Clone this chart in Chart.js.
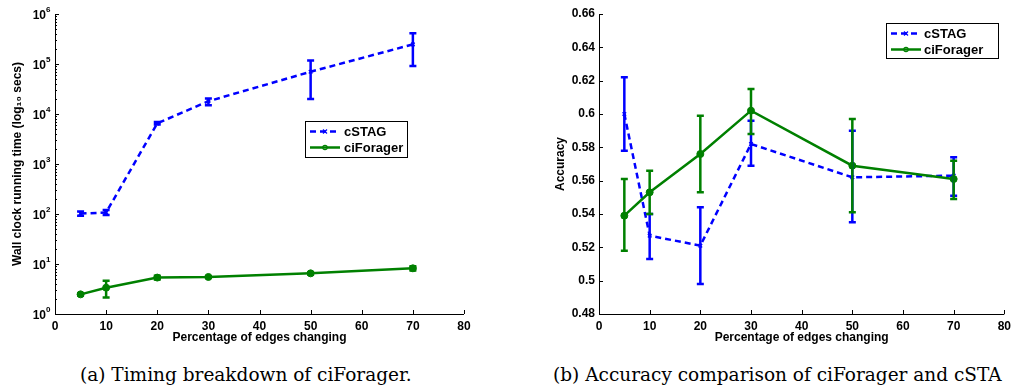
<!DOCTYPE html>
<html>
<head>
<meta charset="utf-8">
<script src="https://cdn.jsdelivr.net/npm/chart.js@4.4.1/dist/chart.umd.min.js"></script>
<style>
  body { margin: 0; background: #fff; width: 1016px; height: 390px; overflow: hidden; position: relative; }
  canvas { position: absolute; top: 0; }
  .cap { position: absolute; top: 364px; font-family: "DejaVu Serif", serif; font-size: 18.5px; line-height: 22px; white-space: nowrap; color: #000; }
</style>
</head>
<body>
<canvas id="time" width="500" height="350" style="left:0"></canvas>
<canvas id="acc" width="516" height="350" style="left:500px"></canvas>
<div class="cap" id="capA" style="left:80px">(a) Timing breakdown of ciForager.</div>
<div class="cap" id="capB" style="left:553px">(b) Accuracy comparison of ciForager and cSTA</div>
<script>
// x positions shared by both panels
const pctChanging = [5, 10, 20, 30, 50, 70];
const xTicks = [0, 10, 20, 30, 40, 50, 60, 70, 80];

// (a) running time, seconds
const timeCstag   = [102, 107, 6500, 18000, 70000, 247000];
const timeCstagLo = [92, 95, 6200, 15000, 20000, 91000];
const timeCstagHi = [112, 120, 6900, 20500, 118000, 410000];
const timeForager   = [2.47, 3.36, 5.35, 5.5, 6.5, 8.2];
const timeForagerLo = [2.35, 2.15, 4.9, 5.3, 6.2, 7.4];
const timeForagerHi = [2.6, 4.6, 5.8, 5.7, 6.8, 9.0];
const timeTickExps = [0, 1, 2, 3, 4, 5, 6];

// (b) accuracy
const accCstag   = [0.600, 0.527, 0.521, 0.582, 0.562, 0.563];
const accCstagLo = [0.578, 0.513, 0.498, 0.569, 0.535, 0.551];
const accCstagHi = [0.622, 0.540, 0.544, 0.596, 0.590, 0.574];
const accForager   = [0.539, 0.553, 0.576, 0.602, 0.569, 0.561];
const accForagerLo = [0.518, 0.540, 0.553, 0.588, 0.541, 0.549];
const accForagerHi = [0.561, 0.566, 0.599, 0.615, 0.597, 0.572];
const accTicks = [0.48, 0.5, 0.52, 0.54, 0.56, 0.58, 0.6, 0.62, 0.64, 0.66];

const BLUE = '#0000ff', GREEN = '#008000';
const FONT = '"Liberation Sans", Arial, sans-serif';
const pts = ys => pctChanging.map((x, i) => ({ x, y: ys[i] }));

const errorBars = {
  id: 'errorBars',
  afterDatasetsDraw(chart) {
    const { ctx, scales: { x, y } } = chart;
    chart.data.datasets.forEach(ds => {
      ctx.save();
      ctx.strokeStyle = ds.borderColor;
      ctx.lineWidth = 2.5;
      ctx.setLineDash([]);
      ds.data.forEach((p, j) => {
        const px = x.getPixelForValue(p.x);
        const y1 = y.getPixelForValue(ds.errLo[j]), y2 = y.getPixelForValue(ds.errHi[j]);
        ctx.beginPath();
        ctx.moveTo(px, y1); ctx.lineTo(px, y2);
        ctx.moveTo(px - 3.5, y1); ctx.lineTo(px + 3.5, y1);
        ctx.moveTo(px - 3.5, y2); ctx.lineTo(px + 3.5, y2);
        ctx.stroke();
      });
      ctx.restore();
    });
  }
};

// MATLAB-style axes: left + bottom line, ticks pointing inward
const axesBox = {
  id: 'axesBox',
  beforeDatasetsDraw(chart) {
    const { ctx, chartArea: a, scales: { x, y } } = chart;
    ctx.save();
    ctx.strokeStyle = '#000';
    ctx.lineWidth = 1;
    ctx.beginPath();
    ctx.moveTo(a.left + 0.5, a.top); ctx.lineTo(a.left + 0.5, a.bottom + 0.5); ctx.lineTo(a.right, a.bottom + 0.5);
    xTicks.forEach(v => {
      const px = Math.round(x.getPixelForValue(v)) + 0.5;
      ctx.moveTo(px, a.bottom); ctx.lineTo(px, a.bottom - 4);
    });
    if (y.type === 'logarithmic') {
      timeTickExps.forEach(e => {
        const py = Math.round(y.getPixelForValue(Math.pow(10, e))) + 0.5;
        ctx.moveTo(a.left, py); ctx.lineTo(a.left + 4, py);
        if (e < timeTickExps[timeTickExps.length - 1]) {
          for (let m = 2; m < 10; m++) {
            const my = Math.round(y.getPixelForValue(m * Math.pow(10, e))) + 0.5;
            ctx.moveTo(a.left, my); ctx.lineTo(a.left + 2, my);
          }
        }
      });
    } else {
      accTicks.forEach(v => {
        const py = Math.round(y.getPixelForValue(v)) + 0.5;
        ctx.moveTo(a.left, py); ctx.lineTo(a.left + 4, py);
      });
    }
    ctx.stroke();
    ctx.restore();
  }
};

// 10^n labels for the log axis
const powerLabels = {
  id: 'powerLabels',
  afterDraw(chart) {
    const { ctx, chartArea: a, scales: { y } } = chart;
    if (y.type !== 'logarithmic') return;
    ctx.save();
    ctx.fillStyle = '#000';
    timeTickExps.forEach(e => {
      const py = y.getPixelForValue(Math.pow(10, e));
      ctx.font = 'bold 12px ' + FONT;
      ctx.textAlign = 'right';
      ctx.textBaseline = 'middle';
      ctx.fillText('10', a.left - 9, py + 2);
      ctx.font = 'bold 8px ' + FONT;
      ctx.textAlign = 'left';
      ctx.fillText(String(e), a.left - 9, py - 4);
    });
    ctx.restore();
  }
};

const boxLegend = {
  id: 'boxLegend',
  afterDraw(chart, args, opts) {
    const { ctx } = chart;
    const { left, top, width, height, rows, lineStart, lineEnd, textX } = opts;
    ctx.save();
    ctx.fillStyle = '#fff';
    ctx.fillRect(left, top, width, height);
    ctx.strokeStyle = '#000';
    ctx.lineWidth = 1;
    ctx.strokeRect(left + 0.5, top + 0.5, width, height);
    chart.data.datasets.forEach((ds, i) => {
      const ry = rows[i];
      ctx.strokeStyle = ds.borderColor;
      ctx.lineWidth = 2.5;
      ctx.setLineDash(ds.borderDash || []);
      ctx.beginPath();
      ctx.moveTo(lineStart, ry); ctx.lineTo(lineEnd, ry);
      ctx.stroke();
      ctx.setLineDash([]);
      const mx = (lineStart + lineEnd) / 2;
      ctx.lineWidth = 1.2;
      ctx.beginPath();
      if (ds.pointStyle === 'crossRot') {
        ctx.moveTo(mx - 2, ry - 2); ctx.lineTo(mx + 2, ry + 2);
        ctx.moveTo(mx - 2, ry + 2); ctx.lineTo(mx + 2, ry - 2);
        ctx.stroke();
      } else {
        ctx.arc(mx, ry, 2.2, 0, Math.PI * 2);
        ctx.stroke();
      }
      ctx.fillStyle = '#000';
      ctx.font = 'bold 13px ' + FONT;
      ctx.textAlign = 'left';
      ctx.textBaseline = 'middle';
      ctx.fillText(ds.label, textX, ry + 0.5);
    });
    ctx.restore();
  }
};

function makeSets(cs, csLo, csHi, cf, cfLo, cfHi) {
  return [
    {
      label: 'cSTAG', data: pts(cs), errLo: csLo, errHi: csHi, order: 1,
      borderColor: BLUE, backgroundColor: BLUE, borderWidth: 2.5, borderDash: [6, 4],
      pointStyle: 'crossRot', pointRadius: 2.5, pointBorderWidth: 1.5, tension: 0
    },
    {
      label: 'ciForager', data: pts(cf), errLo: cfLo, errHi: cfHi, order: 0,
      borderColor: GREEN, backgroundColor: GREEN, borderWidth: 2.5,
      pointStyle: 'circle', pointRadius: 3.5, pointBorderWidth: 1, tension: 0
    }
  ];
}

function xScale() {
  return {
    type: 'linear', min: 0, max: 80,
    afterBuildTicks: s => { s.ticks = xTicks.map(v => ({ value: v })); },
    afterFit: s => { s.height = 36; },
    grid: { display: false, drawTicks: false },
    border: { display: false },
    ticks: { color: '#000', padding: 5, maxRotation: 0, font: { family: FONT, weight: 'bold', size: 12 } },
    title: { display: true, text: 'Percentage of edges changing', color: '#000', padding: { top: 0, bottom: 5 }, font: { family: FONT, weight: 'bold', size: 12 } }
  };
}

Chart.defaults.animation = false;

new Chart(document.getElementById('time'), {
  type: 'line',
  data: { datasets: makeSets(timeCstag, timeCstagLo, timeCstagHi, timeForager, timeForagerLo, timeForagerHi) },
  options: {
    responsive: false,
    layout: { padding: { left: 0, top: 14, right: 36, bottom: 0 } },
    plugins: {
      legend: { display: false }, tooltip: { enabled: false },
      boxLegend: { left: 305, top: 121, width: 102, height: 36, rows: [131.5, 147.5], lineStart: 310, lineEnd: 340, textX: 344 }
    },
    scales: {
      x: xScale(),
      y: {
        type: 'logarithmic', min: 1, max: 1e6,
        afterBuildTicks: s => { s.ticks = timeTickExps.map(e => ({ value: Math.pow(10, e), major: true })); },
        afterFit: s => { s.width = 55; },
        grid: { display: false, drawTicks: false },
        border: { display: false },
        ticks: { display: false },
        title: { display: true, text: 'Wall clock running time (log\u2081\u2080 secs)', color: '#000', padding: { top: 10, bottom: 0 }, font: { family: FONT, weight: 'bold', size: 12 } }
      }
    }
  },
  plugins: [axesBox, errorBars, powerLabels, boxLegend]
});

new Chart(document.getElementById('acc'), {
  type: 'line',
  data: { datasets: makeSets(accCstag, accCstagLo, accCstagHi, accForager, accForagerLo, accForagerHi) },
  options: {
    responsive: false,
    layout: { padding: { left: 0, top: 14, right: 8, bottom: 0 } },
    plugins: {
      legend: { display: false }, tooltip: { enabled: false },
      boxLegend: { left: 386, top: 23, width: 112, height: 35, rows: [33.5, 49.5], lineStart: 391, lineEnd: 421, textX: 424 }
    },
    scales: {
      x: xScale(),
      y: {
        type: 'linear', min: 0.48, max: 0.66,
        afterBuildTicks: s => { s.ticks = accTicks.map(v => ({ value: v })); },
        afterFit: s => { s.width = 99; },
        grid: { display: false, drawTicks: false },
        border: { display: false },
        ticks: { color: '#000', padding: 4, callback: v => String(+v.toFixed(2)), font: { family: FONT, weight: 'bold', size: 12 } },
        title: { display: true, text: 'Accuracy', color: '#000', padding: { top: 53, bottom: 0 }, font: { family: FONT, weight: 'bold', size: 12 } }
      }
    }
  },
  plugins: [axesBox, errorBars, boxLegend]
});
</script>
</body>
</html>
